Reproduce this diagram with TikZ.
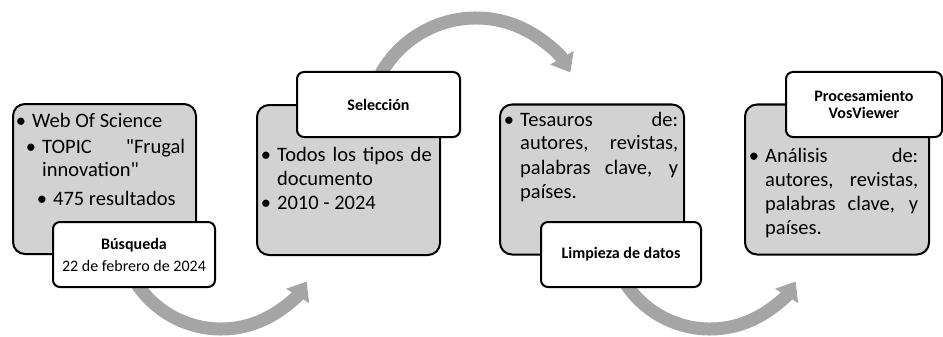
\documentclass[tikz,border=0pt]{standalone}
\usepackage{fontspec}
\setmainfont{Carlito}[Ligatures=TeXOff]
\usepackage{tikz}
\usetikzlibrary{arrows.meta,calc}
\definecolor{boxgray}{RGB}{210,210,210}
\definecolor{arcgray}{RGB}{165,165,165}
\hyphenpenalty=10000
\exhyphenpenalty=10000
\tikzset{stage/.style={draw=black, line width=2pt, fill=boxgray, rounded corners=12pt, minimum width=183pt, minimum height=150pt, anchor=north west, inner sep=0pt},
tag/.style={draw=black, line width=2pt, fill=white, rounded corners=7pt, minimum width=162pt, minimum height=65pt, anchor=north west, inner sep=0pt, align=center, font=\fontsize{16}{17}\selectfont\bfseries},
flow/.style={draw=arcgray, line width=13pt, -{Triangle[width=26pt,length=17pt]}},
bodytext/.style={anchor=base west, inner sep=0pt, font=\fontsize{20.5}{24}\selectfont}}
\newcommand{\bul}{\leavevmode\llap{\textbullet\hspace{6pt}}}

\begin{document}
\begin{tikzpicture}[x=1pt, y=1pt]
        \useasboundingbox (0,0) rectangle (943,-337);
        % curved arrows between the stages
        \coordinate (c1) at (221,-228);
        \coordinate (c2) at (476,-127);
        \coordinate (c3) at (710,-228);
        \coordinate (s1) at ($(c1)+(208:101pt)$);
        \coordinate (s2) at ($(c2)+(152:109pt)$);
        \coordinate (s3) at ($(c3)+(208:101pt)$);
        \draw[flow] (s1) arc[start angle=208, end angle=328, radius=101pt];
        \draw[flow] (s2) arc[start angle=152, end angle=30, radius=109pt];
        \draw[flow] (s3) arc[start angle=208, end angle=328, radius=101pt];
        % gray stages
        \node[stage] (box1) at (12,-103) {};
        \node[stage] (box2) at (256,-104) {};
        \node[stage, minimum width=184pt] (box3) at (499,-103.5) {};
        \node[stage, minimum width=184pt] (box4) at (744,-103.5) {};
        \node[bodytext] (t1a) at (32,-128) {\bul Web Of Science};
        \node[bodytext, text width=143pt, align=justify] (t1b) at (42,-153) {\bul TOPIC "Frugal innovation"};
        \node[bodytext] (t1c) at (53,-205) {\bul 475 resultados};
        \node[bodytext, text width=155pt, align=left] (t2a) at (277,-161) {\bul Todos los tipos de documento};
        \node[bodytext] (t2b) at (277,-209) {\bul 2010 - 2024};
        \node[bodytext, text width=158pt, align=justify] (t3a) at (520,-126) {\bul Tesauros de: autores, revistas, palabras clave, y países.};
        \node[bodytext, text width=153pt, align=justify] (t4a) at (765,-162) {\bul Análisis de: autores, revistas, palabras clave, y países.};
        % white labels
        \node[tag] (lab1) at (52,-221) {Búsqueda\\[5pt]{\mdseries 22 de febrero de 2024}};
        \node[tag, minimum width=163pt] (lab2) at (296,-71) {Selección};
        \node[tag, minimum width=160pt] (lab3) at (540,-221) {Limpieza de datos};
        \node[tag, minimum width=156pt] (lab4) at (785,-71) {Procesamiento\\VosViewer};
\end{tikzpicture}
\end{document}
